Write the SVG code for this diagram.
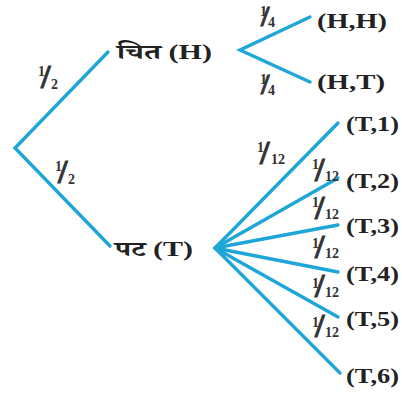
<svg xmlns="http://www.w3.org/2000/svg" width="402" height="396" viewBox="0 0 402 396">
<style>
.edge{stroke:#1ea6d8;stroke-width:3.4;fill:none;stroke-linecap:round}
.lbl{font-family:"Liberation Serif","Noto Serif Devanagari","Noto Sans Devanagari","Lohit Devanagari",serif;font-weight:bold;font-size:21px;fill:#222}
.fr{font-family:"Liberation Serif",serif;font-weight:bold;fill:#333;font-size:14px}
.sl{font-size:34px;stroke:#333;stroke-width:0.9}
.sl2{font-size:30px;stroke:#333;stroke-width:0.9}
</style>
<rect width="402" height="396" fill="#fff"/>
<g id="connectors">
<polyline class="edge" points="108,52 15,148 110,246"/>
<polyline class="edge" points="310,17 240,50 310,82"/>
<line class="edge" x1="215" y1="248" x2="338" y2="123"/>
<line class="edge" x1="215" y1="248" x2="338" y2="178"/>
<line class="edge" x1="215" y1="248" x2="338" y2="225"/>
<line class="edge" x1="215" y1="248" x2="338" y2="272"/>
<line class="edge" x1="215" y1="248" x2="338" y2="317"/>
<line class="edge" x1="215" y1="248" x2="340" y2="373"/>
</g>
<g id="edge-labels">
<text class="fr"><tspan x="38" y="76">1</tspan><tspan class="sl" x="41" y="88">/</tspan><tspan x="51" y="89">2</tspan></text>
<text class="fr"><tspan x="55" y="171">1</tspan><tspan class="sl" x="58" y="183">/</tspan><tspan x="68" y="184">2</tspan></text>
<text class="fr"><tspan x="260" y="16">1</tspan><tspan class="sl2" x="261" y="26">/</tspan><tspan x="268" y="27">4</tspan></text>
<text class="fr"><tspan x="260" y="84">1</tspan><tspan class="sl2" x="261" y="94">/</tspan><tspan x="268" y="95">4</tspan></text>
<text class="fr"><tspan x="257" y="152">1</tspan><tspan class="sl" x="260" y="164">/</tspan><tspan x="271" y="164">12</tspan></text>
<text class="fr"><tspan x="312" y="169">1</tspan><tspan class="sl" x="315" y="181">/</tspan><tspan x="325" y="181">12</tspan></text>
<text class="fr"><tspan x="312" y="207">1</tspan><tspan class="sl" x="315" y="219">/</tspan><tspan x="325" y="219">12</tspan></text>
<text class="fr"><tspan x="312" y="248">1</tspan><tspan class="sl" x="315" y="258">/</tspan><tspan x="325" y="258">12</tspan></text>
<text class="fr"><tspan x="312" y="288">1</tspan><tspan class="sl" x="315" y="297">/</tspan><tspan x="325" y="297">12</tspan></text>
<text class="fr"><tspan x="312" y="327">1</tspan><tspan class="sl" x="315" y="337">/</tspan><tspan x="325" y="337">12</tspan></text>
</g>
<g id="node-H"><text class="lbl" x="117" y="59" textLength="95" lengthAdjust="spacingAndGlyphs">चित (H)</text></g>
<g id="node-T"><text class="lbl" x="115" y="256" textLength="78" lengthAdjust="spacingAndGlyphs">पट (T)</text></g>
<g id="node-HH"><text class="lbl" x="317" y="28" textLength="70" lengthAdjust="spacingAndGlyphs">(H,H)</text></g>
<g id="node-HT"><text class="lbl" x="317" y="89" textLength="68" lengthAdjust="spacingAndGlyphs">(H,T)</text></g>
<g id="node-T1"><text class="lbl" x="346" y="131" textLength="53" lengthAdjust="spacingAndGlyphs">(T,1)</text></g>
<g id="node-T2"><text class="lbl" x="346" y="188" textLength="53" lengthAdjust="spacingAndGlyphs">(T,2)</text></g>
<g id="node-T3"><text class="lbl" x="346" y="233" textLength="53" lengthAdjust="spacingAndGlyphs">(T,3)</text></g>
<g id="node-T4"><text class="lbl" x="346" y="281" textLength="53" lengthAdjust="spacingAndGlyphs">(T,4)</text></g>
<g id="node-T5"><text class="lbl" x="346" y="326" textLength="53" lengthAdjust="spacingAndGlyphs">(T,5)</text></g>
<g id="node-T6"><text class="lbl" x="346" y="383" textLength="53" lengthAdjust="spacingAndGlyphs">(T,6)</text></g>
</svg>
